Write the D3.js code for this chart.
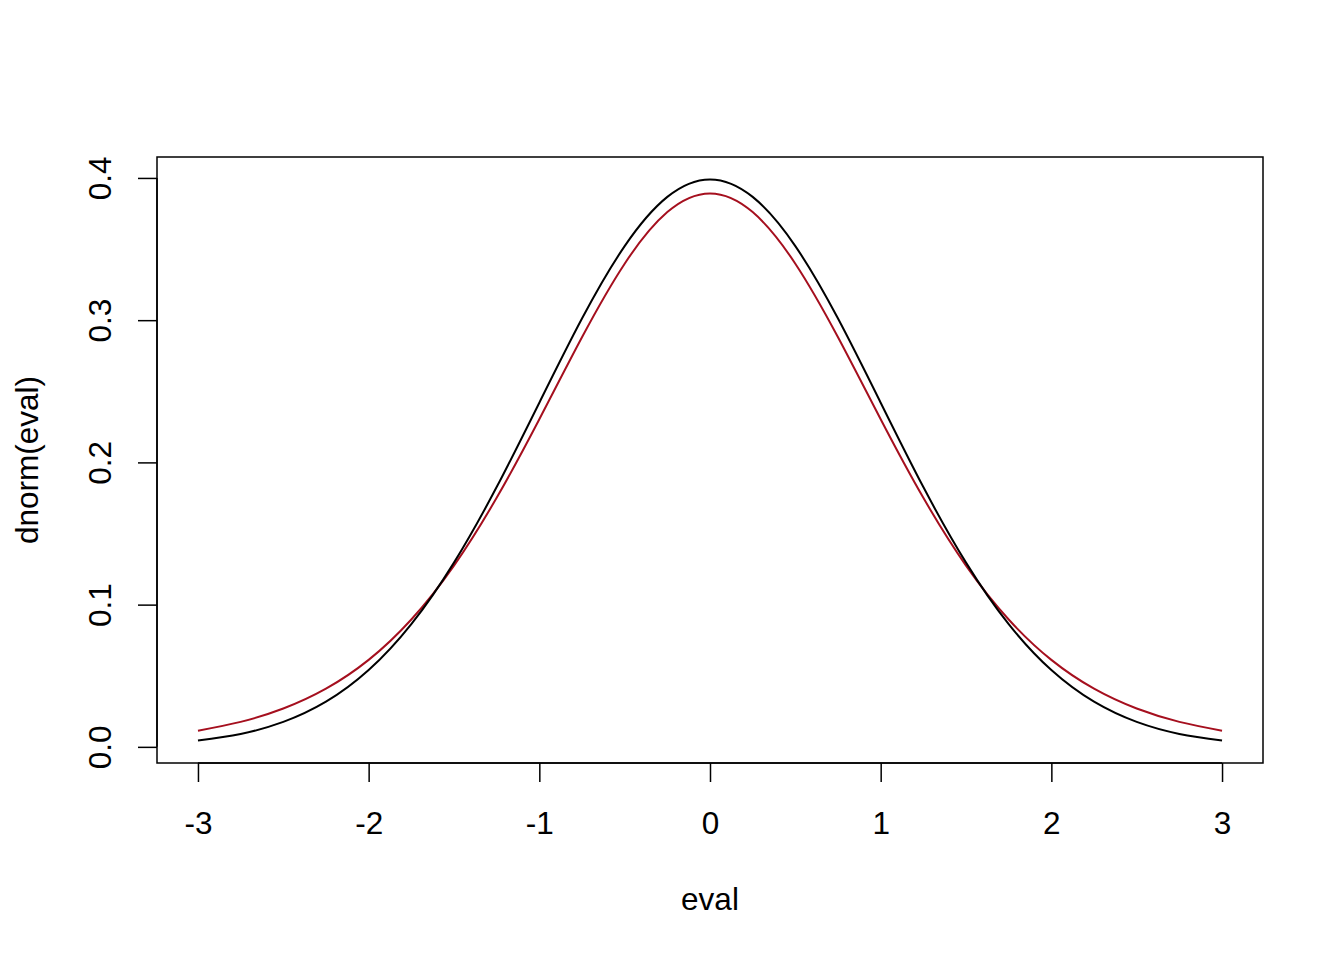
<!DOCTYPE html>
<html><head><meta charset="utf-8">
<script src="https://cdn.jsdelivr.net/npm/d3@7"></script>
<style>body{margin:0;background:#fff}svg{display:block}text{font-family:"Liberation Sans",Arial,Helvetica,sans-serif;fill:#000}</style>
</head><body><svg id="c" width="1344" height="960"></svg>
<script>
const xs = [-3,-2.75,-2.5,-2.25,-2,-1.75,-1.5,-1.25,-1,-0.75,-0.5,-0.25,0,0.25,0.5,0.75,1,1.25,1.5,1.75,2,2.25,2.5,2.75,3];
const normalVals = [0.00443,0.00909,0.01753,0.03174,0.05399,0.08628,0.12952,0.18265,0.24197,0.30114,0.35207,0.38667,0.39894,0.38667,0.35207,0.30114,0.24197,0.18265,0.12952,0.08628,0.05399,0.03174,0.01753,0.00909,0.00443];
const tVals = [0.01140,0.01757,0.02694,0.04090,0.06114,0.08954,0.12745,0.17511,0.23036,0.28799,0.33970,0.37600,0.38911,0.37600,0.33970,0.28799,0.23036,0.17511,0.12745,0.08954,0.06114,0.04090,0.02694,0.01757,0.01140];
const xTicks = [-3,-2,-1,0,1,2,3];
const yTicks = [0.0,0.1,0.2,0.3,0.4];
const xLabel = "eval", yLabel = "dnorm(eval)";

const svg = d3.select("#c");
const L=157,R=1263,T=157,B=763;
const x = d3.scaleLinear().domain([-3.24,3.24]).range([L,R]);
const y = d3.scaleLinear().domain([-0.01578+0.00443,0.39894+0.01578]).range([B,T]);
const fs = 31.5;

svg.append("rect").attr("x",L).attr("y",T).attr("width",R-L).attr("height",B-T)
  .attr("fill","none").attr("stroke","#000").attr("stroke-width",1.5);

// x axis
const gx = svg.append("g").attr("transform",`translate(0,${B})`)
  .call(d3.axisBottom(x).tickValues(xTicks).tickSize(19).tickFormat(d => String(d)));
gx.select(".domain").attr("d",`M${x(-3)},0H${x(3)}`).attr("stroke-width",1.5);
gx.selectAll(".tick line").attr("stroke-width",1.5);
gx.selectAll(".tick text").attr("font-size",fs).attr("font-family",null).attr("dy",null).attr("y",71).attr("text-anchor","middle");

// y axis
const gy = svg.append("g").attr("transform",`translate(${L},0)`)
  .call(d3.axisLeft(y).tickValues(yTicks).tickSize(19).tickFormat(d3.format(".1f")));
gy.select(".domain").attr("d",`M0,${y(0)}V${y(0.4)}`).attr("stroke-width",1.5);
gy.selectAll(".tick line").attr("stroke-width",1.5);
gy.selectAll(".tick text").attr("font-size",fs).attr("font-family",null).attr("dy",null)
  .attr("x",null).attr("text-anchor","middle").attr("transform","translate(-46,0) rotate(-90)");

svg.append("text").attr("x",(L+R)/2).attr("y",910).attr("text-anchor","middle").attr("font-size",fs).text(xLabel);
svg.append("text").attr("text-anchor","middle").attr("font-size",fs)
  .attr("transform",`translate(38,${(T+B)/2}) rotate(-90)`).text(yLabel);

const line = vals => d3.line().x((d,i)=>x(xs[i])).y(d=>y(d)).curve(d3.curveNatural)(vals);
svg.append("path").attr("d",line(tVals)).attr("fill","none").attr("stroke","#A50F1E").attr("stroke-width",2);
svg.append("path").attr("d",line(normalVals)).attr("fill","none").attr("stroke","#000").attr("stroke-width",2);
</script></body></html>
